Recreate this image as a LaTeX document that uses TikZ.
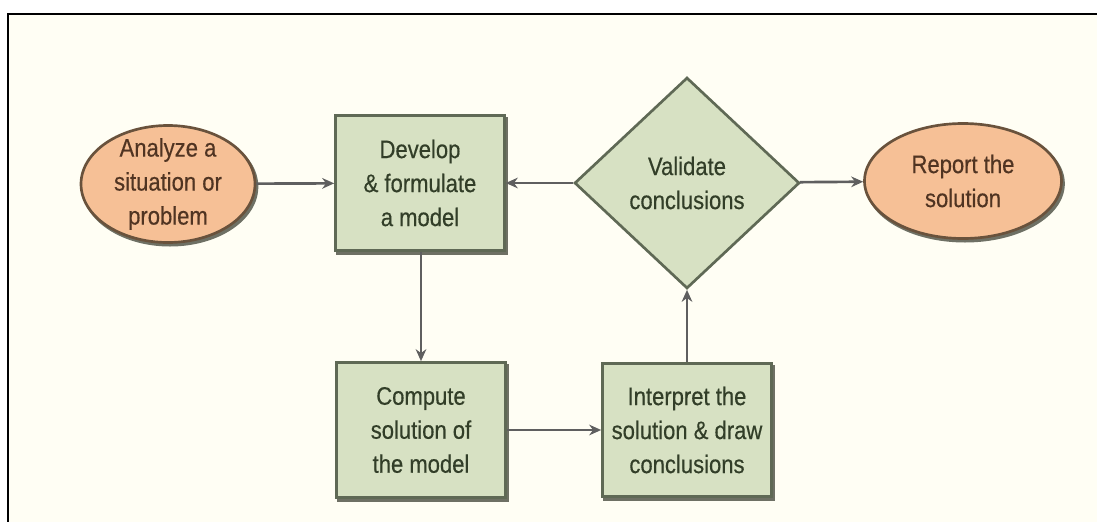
\documentclass[tikz,border=0pt]{standalone}
\usepackage{fontspec}
\setmainfont{Liberation Sans}[FakeStretch=0.87,FakeBold=0.4]
\usetikzlibrary{shapes.geometric,arrows.meta}

\definecolor{cream}{RGB}{255,254,244}
\definecolor{sage}{RGB}{215,225,195}
\definecolor{sageline}{RGB}{95,105,85}
\definecolor{sagetext}{RGB}{50,62,40}
\definecolor{peach}{RGB}{246,192,150}
\definecolor{peachline}{RGB}{105,82,60}
\definecolor{peachtext}{RGB}{80,52,34}
\definecolor{arrowgrey}{RGB}{95,95,95}
\definecolor{shadowgrey}{RGB}{110,112,100}

\tikzset{every picture/.style={line width=0.75pt}}
\tikzset{
  boxshadow/.style={preaction={draw=shadowgrey, fill=shadowgrey, line width=2pt,
    transform canvas={xshift=1.5pt,yshift=-2pt}}},
  stepbox/.style={rectangle, boxshadow, draw=sageline, line width=2pt, fill=sage, text=sagetext,
    minimum width=126.75pt, minimum height=101.25pt, inner sep=0pt, align=center,
    font=\fontsize{19pt}{25.5pt}\selectfont},
  endpoint/.style={ellipse, boxshadow, draw=peachline, line width=2pt, fill=peach, text=peachtext,
    inner xsep=0pt, inner ysep=-12pt, align=center, font=\fontsize{19pt}{25.5pt}\selectfont},
  checkbox/.style={diamond, draw=sageline, line width=2pt, fill=sage, text=sagetext,
    inner sep=0pt, align=center, font=\fontsize{19pt}{25.5pt}\selectfont},
  flow/.style={draw=arrowgrey, line width=2pt, -{Stealth[length=9pt,width=8pt,fill=black!85]}}
}

\begin{document}
\begin{tikzpicture}[x=0.75pt,y=0.75pt,yscale=-1,xscale=1]
	\useasboundingbox (0,0) rectangle (1097,522);

	%Shape: Background
	\fill [white] (0,0) rectangle (1097,522);
	\fill [cream] (8,14) rectangle (1097,522);
	%Straight Lines: frame
	\draw [line width=1.5pt] (1097,14) -- (8,14) -- (8,522);

	%Shape: Ellipse
	\node [endpoint, minimum width=130.5pt, minimum height=87.75pt] (analyze) at (168,184) {Analyze a\\situation or\\problem};
	%Shape: Rectangle
	\node [stepbox] (develop) at (420,183) {Develop\\\& formulate\\a model};
	%Shape: Diamond
	\node [checkbox, minimum width=168.75pt, minimum height=158.25pt] (validate) at (687,183) {Validate\\conclusions};
	%Shape: Ellipse
	\node [endpoint, minimum width=147.75pt, minimum height=86.25pt] (report) at (963,181) {Report the\\solution};
	%Shape: Rectangle
	\node [stepbox] (compute) at (421,430) {Compute\\solution of\\the model};
	%Shape: Rectangle
	\node [stepbox, minimum height=99.75pt] (interpret) at (687,430) {Interpret the\\solution \& draw\\conclusions};

	%Straight Lines
	\draw [flow] (analyze) -- (develop);
	\draw [flow] (validate) -- (develop);
	\draw [flow] (validate) -- (report);
	\draw [flow] (develop.south -| compute.north) -- (compute);
	\draw [flow] (compute) -- (interpret);
	\draw [flow] (interpret) -- (validate);

\end{tikzpicture}
\end{document}
